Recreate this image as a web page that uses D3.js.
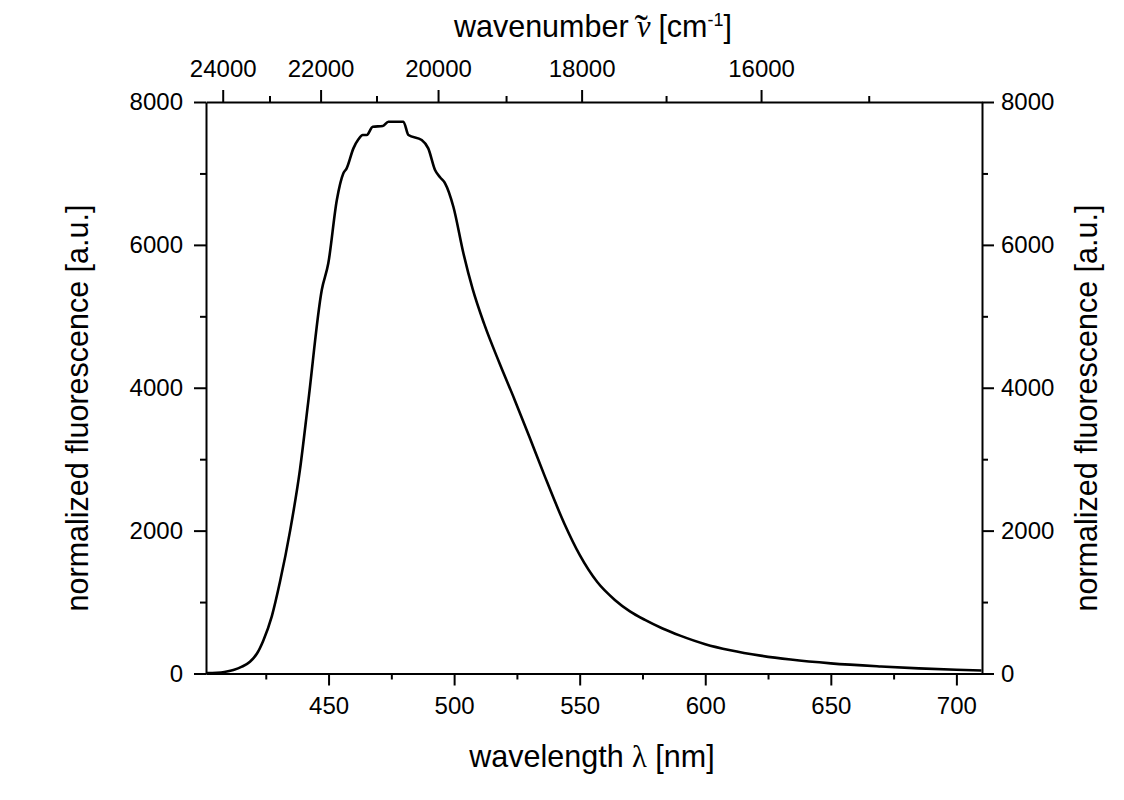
<!DOCTYPE html>
<html lang="en">
<head>
<meta charset="UTF-8">
<title>Fluorescence spectrum</title>
<script src="https://d3js.org/d3.v7.min.js"></script>
<style>
    body { margin: 0; background: #fff; }
    svg text { font-family: "Liberation Sans", Arial, sans-serif; fill: #000; }
    .axis path, .axis line { stroke: #000; stroke-width: 2; }
    .axis text { font-size: 24px; }
    .title { font-size: 30.5px; }
</style>
</head>
<body>
<script>
// spectrum
var wavelength = [401.2, 405.5, 408.5, 412.1, 415.5, 418.7, 421.5, 424.0, 427.4, 430.7, 434.7, 438.6, 441.9,
    447.3, 449.9, 453.3, 455.9, 457.2, 459.9, 461.9, 463.6, 465.2, 467.6, 471.6, 473.8, 479.8, 481.8,
    487.1, 489.7, 492.4, 494.4, 496.4, 499.7, 503.7, 507.4, 512, 518, 524, 530, 536, 544, 550,
    557, 564, 570, 576, 583, 590, 600, 610, 622, 634, 650, 670, 685, 700, 710];
var fluorescence = [5, 11, 22, 49, 95, 165, 280, 460, 800, 1290, 2000, 2850, 3800,
    5368, 5742, 6628, 7002, 7071, 7351, 7478, 7538, 7538, 7654, 7664, 7724, 7724, 7538,
    7468, 7351, 7048, 6946, 6862, 6534, 5882, 5380, 4890, 4350, 3840, 3310, 2770, 2090, 1660,
    1280, 1030, 870, 750, 630, 530, 410, 325, 250, 195, 142, 98, 72, 52, 42];

var bottomTicks = [450, 500, 550, 600, 650, 700];
var bottomMinor = [425, 475, 525, 575, 625, 675];
var yTicks = [0, 2000, 4000, 6000, 8000];
var yMinor = [1000, 3000, 5000, 7000];
var topTicks = [24000, 22000, 20000, 18000, 16000];
var topMinor = [23000, 21000, 19000, 17000, 15000];

var w = 1124;
var h = 800;
var mLeft = 206, mRight = 982, mTop = 102, mBottom = 673.5;

var svg = d3.select("body")
    .append("svg")
    .attr("width", w)
    .attr("height", h);

var x = d3.scaleLinear().domain([401.2, 710.2]).range([mLeft, mRight]);
// top axis is placed by 1e7/nu on its own wavelength range
var xTop = d3.scaleLinear().domain([410.2, 710.5]).range([mLeft, mRight]);
var y = d3.scaleLinear().domain([0, 8000]).range([mBottom, mTop]);

function drawAxis(axis, tf) {
    var g = svg.append("g")
        .attr("class", "axis")
        .attr("transform", tf)
        .call(axis);
    g.attr("font-size", null).attr("font-family", null);
    return g;
}

// bottom
drawAxis(d3.axisBottom(x).tickValues(bottomTicks).tickSize(12).tickPadding(11).tickSizeOuter(0),
    "translate(0," + mBottom + ")");
drawAxis(d3.axisBottom(x).tickValues(bottomMinor).tickSize(6).tickFormat("").tickSizeOuter(0),
    "translate(0," + mBottom + ")").select(".domain").remove();

// top (wavenumber)
var toNm = function (v) { return 1e7 / v; };
drawAxis(d3.axisTop(xTop).tickValues(topTicks.map(toNm)).tickSize(12).tickPadding(13).tickSizeOuter(0)
    .tickFormat(function (d) { return Math.round(1e7 / d); }),
    "translate(0," + mTop + ")");
drawAxis(d3.axisTop(xTop).tickValues(topMinor.map(toNm)).tickSize(6).tickFormat("").tickSizeOuter(0),
    "translate(0," + mTop + ")").select(".domain").remove();

// left
drawAxis(d3.axisLeft(y).tickValues(yTicks).tickSize(12).tickPadding(11).tickSizeOuter(0)
    .tickFormat(d3.format("d")),
    "translate(" + mLeft + ",0)");
drawAxis(d3.axisLeft(y).tickValues(yMinor).tickSize(6).tickFormat("").tickSizeOuter(0),
    "translate(" + mLeft + ",0)").select(".domain").remove();

// right
drawAxis(d3.axisRight(y).tickValues(yTicks).tickSize(12).tickPadding(7).tickSizeOuter(0)
    .tickFormat(d3.format("d")),
    "translate(" + mRight + ",0)");
drawAxis(d3.axisRight(y).tickValues(yMinor).tickSize(6).tickFormat("").tickSizeOuter(0),
    "translate(" + mRight + ",0)").select(".domain").remove();

// curve
var pts = wavelength.map(function (d, i) { return [d, fluorescence[i]]; });
var line = d3.line()
    .x(function (d) { return x(d[0]); })
    .y(function (d) { return y(d[1]); })
    .curve(d3.curveMonotoneX);

svg.append("path")
    .datum(pts)
    .attr("d", line)
    .attr("fill", "none")
    .attr("stroke", "#000")
    .attr("stroke-width", 2.6)
    .attr("stroke-linejoin", "round");

// titles
var bt = svg.append("text").attr("class", "title")
    .attr("x", 592).attr("y", 767).attr("text-anchor", "middle");
bt.append("tspan").text("wavelength ");
bt.append("tspan").style("font-family", "Liberation Serif, serif").text("\u03bb");
bt.append("tspan").text(" [nm]");

var tt = svg.append("text").attr("class", "title")
    .attr("x", 593).attr("y", 37).attr("text-anchor", "middle");
tt.append("tspan").text("wavenumber ");
tt.append("tspan").style("font-family", "Liberation Serif, serif").style("font-style", "italic").text("\u03bd");
tt.append("tspan").style("font-family", "Liberation Serif, serif").style("font-size", "40px")
    .attr("dx", -16).attr("dy", 5).text("\u02dc");
tt.append("tspan").attr("dx", 2).attr("dy", -5).text(" [cm");
tt.append("tspan").attr("dy", -11).style("font-size", "18px").text("-1");
tt.append("tspan").attr("dy", 11).text("]");

svg.append("text").attr("class", "title")
    .attr("transform", "translate(88,408) rotate(-90)")
    .attr("text-anchor", "middle")
    .text("normalized fluorescence [a.u.]");

svg.append("text").attr("class", "title")
    .attr("transform", "translate(1097,408) rotate(-90)")
    .attr("text-anchor", "middle")
    .text("normalized fluorescence [a.u.]");
</script>
</body>
</html>
